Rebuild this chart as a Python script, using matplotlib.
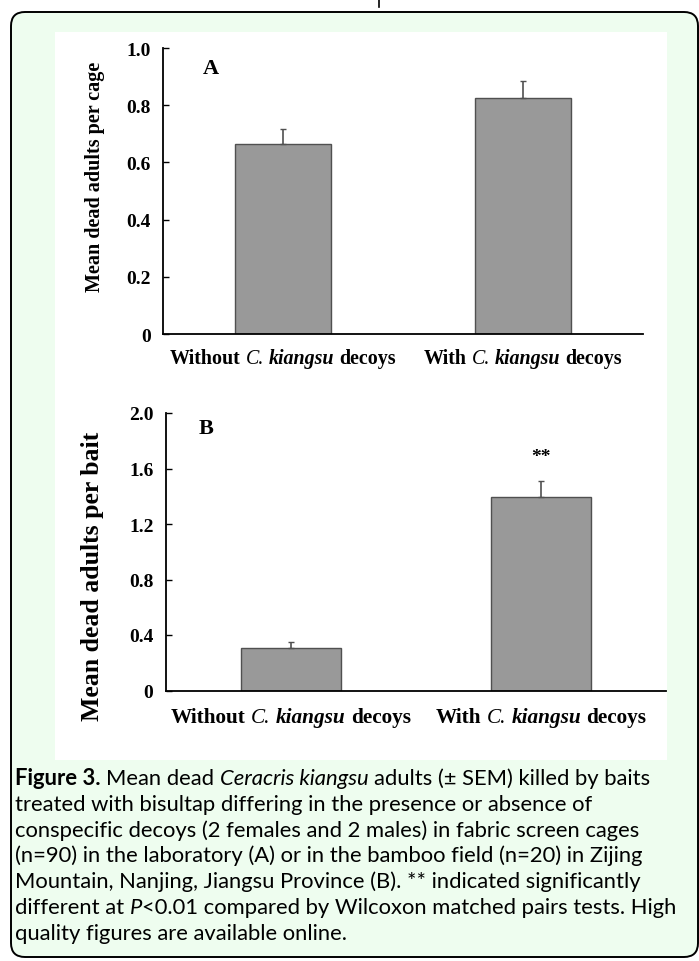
"""
Figure 3: dead C. kiangsu adults per cage (A) and per bait (B),
with and without conspecific decoys.
"""
import matplotlib
matplotlib.use('Agg')
import matplotlib.pyplot as plt
from matplotlib.patches import FancyBboxPatch, Rectangle

W, H = 699, 962

# data
cage_mean = [0.663, 0.824]
cage_sem = [0.053, 0.059]
bait_mean = [0.307, 1.397]
bait_sem = [0.043, 0.116]
cage_ticks = [0, 0.2, 0.4, 0.6, 0.8, 1.0]
cage_ticklabels = ['0', '0.2', '0.4', '0.6', '0.8', '1.0']
bait_ticks = [0, 0.4, 0.8, 1.2, 1.6, 2.0]
bait_ticklabels = ['0', '0.4', '0.8', '1.2', '1.6', '2.0']
group_prefix = ['Without', 'With']

SERIF = 'Liberation Serif'
SANS = 'Lato'

fig = plt.figure(figsize=(W / 100, H / 100), dpi=100)
# background axes in pixel units (y downwards)
bg = fig.add_axes([0, 0, 1, 1], zorder=0)
bg.set_xlim(0, W)
bg.set_ylim(H, 0)
bg.axis('off')
renderer = fig.canvas.get_renderer()

bg.add_patch(FancyBboxPatch((11, 13), 687, 945,
                            boxstyle='round,pad=0,rounding_size=14',
                            facecolor='#eefdef', edgecolor='black', lw=1.4))
bg.add_patch(Rectangle((55, 33), 612, 728, facecolor='white', edgecolor='none'))
bg.plot([379, 379], [0, 8], color='black', lw=1.2)


def run_width(s, **kw):
    t = bg.text(0, 0, '|' + s + '|', **kw)
    w1 = t.get_window_extent(renderer).width
    t.remove()
    t = bg.text(0, 0, '||', **kw)
    w0 = t.get_window_extent(renderer).width
    t.remove()
    return w1 - w0


def draw_runs(x, y, runs, align='left'):
    widths = [run_width(s, **kw) for s, kw in runs]
    if align == 'center':
        x -= sum(widths) / 2
    for (s, kw), w in zip(runs, widths):
        lead = len(s) - len(s.lstrip())
        off = run_width(s[:lead], **kw) if lead else 0
        bg.text(x + off, y, s.strip(), ha='left', va='baseline', **kw)
        x += w


def label_runs(prefix, size):
    b = dict(family=SERIF, fontweight='bold', fontsize=size)
    ci = dict(family=SERIF, fontstyle='italic', fontsize=size)
    bi = dict(family=SERIF, fontweight='bold', fontstyle='italic', fontsize=size)
    return [(prefix + ' ', b), ('C. ', ci), ('kiangsu', bi), (' decoys', b)]


def panel(rect, means, sems, ticks, ticklabels, ylabel, ylab_xy,
          ylab_size, letter, letter_xy, lab_base, lab_size):
    ax = fig.add_axes(rect, zorder=1)
    ax.set_facecolor('none')
    x = [0, 1]
    ax.bar(x, means, width=0.4, color='#999999', edgecolor='#505050', lw=1.0)
    ax.errorbar(x, means, yerr=[[0, 0], sems], fmt='none', ecolor='#505050',
                elinewidth=1.2, capsize=2.5, capthick=1.0)
    ax.set_xlim(-0.5, 1.5)
    ax.set_ylim(0, ticks[-1])
    ax.set_yticks(ticks)
    ax.set_yticklabels(ticklabels, fontfamily=SERIF, fontweight='bold', fontsize=14)
    ax.tick_params(axis='y', direction='in', length=4, width=1, pad=9)
    ax.set_xticks([])
    for s in ['top', 'right']:
        ax.spines[s].set_visible(False)
    for s in ['left', 'bottom']:
        ax.spines[s].set_linewidth(1.3)
    bg.text(ylab_xy[0], ylab_xy[1], ylabel, rotation=90, ha='center', va='center',
            family=SERIF, fontweight='bold', fontsize=ylab_size)
    ax.text(letter_xy[0], letter_xy[1], letter, ha='center', va='center',
            family=SERIF, fontweight='bold', fontsize=16)
    for xi, pre in zip(x, group_prefix):
        px = ax.transData.transform((xi, 0))[0]
        draw_runs(px, lab_base, label_runs(pre, lab_size), align='center')
    return ax


# panel A
panel([163 / W, 1 - 335 / H, 480 / W, 286 / H], cage_mean, cage_sem,
      cage_ticks, cage_ticklabels, 'Mean dead adults per cage', (95, 177),
      14.5, 'A', (-0.3, 0.93), 364, 14.4)

# panel B
axb = panel([166 / W, 1 - 691.5 / H, 500 / W, 277.5 / H], bait_mean, bait_sem,
            bait_ticks, bait_ticklabels, 'Mean dead adults per bait', (93, 576),
            18.5, 'B', (-0.34, 1.89), 723, 15.3)
axb.text(1, 1.69, '**', ha='center', va='center', family=SERIF,
         fontweight='bold', fontsize=14)

# caption
CAP = 15.8
reg = dict(family=SANS, fontsize=CAP)
ital = dict(family=SANS, fontsize=CAP, fontstyle='italic')
bold = dict(family=SANS, fontsize=CAP, fontweight='bold')
caption = [
    [('Figure 3.', bold), (' Mean dead ', reg), ('Ceracris kiangsu', ital),
     (' adults (\u00b1 SEM) killed by baits', reg)],
    [('treated with bisultap differing in the presence or absence of', reg)],
    [('conspecific decoys (2 females and 2 males) in fabric screen cages', reg)],
    [('(n=90) in the laboratory (A) or in the bamboo field (n=20) in Zijing', reg)],
    [('Mountain, Nanjing, Jiangsu Province (B). ** indicated significantly', reg)],
    [('different at ', reg), ('P', ital),
     ('<0.01 compared by Wilcoxon matched pairs tests. High', reg)],
    [('quality figures are available online.', reg)],
]
for i, line in enumerate(caption):
    draw_runs(15, 785 + 25.8 * i, line)

fig.savefig('out.png', dpi=100, facecolor='white')
